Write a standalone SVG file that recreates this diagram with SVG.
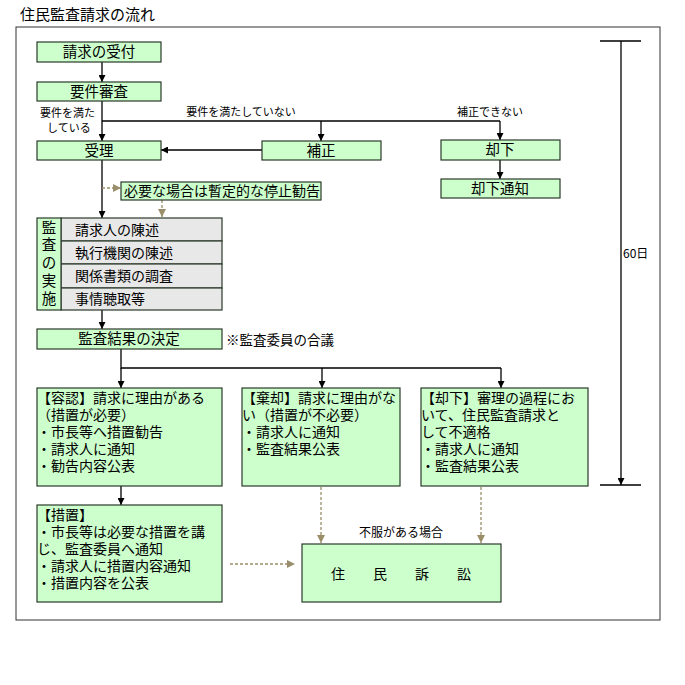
<svg xmlns="http://www.w3.org/2000/svg" width="685" height="685" viewBox="0 0 685 685">
<defs>
<marker id="ah" viewBox="0 0 10 10" refX="10" refY="5" markerWidth="7" markerHeight="7" markerUnits="userSpaceOnUse" orient="auto"><path d="M0,0 L10,5 L0,10 z" fill="#000"/></marker>
<marker id="ahd" viewBox="0 0 10 10" refX="10" refY="5" markerWidth="8" markerHeight="8" markerUnits="userSpaceOnUse" orient="auto"><path d="M0,0 L10,5 L0,10 z" fill="#9a8f6a"/></marker>
<style>
text{font-family:"Noto Sans CJK JP","Noto Sans CJK SC",sans-serif;fill:#000}
.b{fill:#ccffcc;stroke:#2b3a2b;stroke-width:1.2}
.g{fill:#e8e8e8;stroke:#2b3a2b;stroke-width:1.2}
.t{font-size:14.5px;text-anchor:middle}
.l{font-size:14px}
.s{font-size:11px}
.c{stroke:#000;stroke-width:1.3;fill:none}
.a{stroke:#000;stroke-width:1.3;fill:none;marker-end:url(#ah)}
.d{stroke:#9a8f6a;stroke-width:1.3;fill:none;stroke-dasharray:3,2;marker-end:url(#ahd)}
</style>
</defs>
<rect width="685" height="685" fill="#fff"/>
<text x="20" y="20" style="font-size:15px">住民監査請求の流れ</text>
<rect x="16" y="27" width="644" height="593" fill="none" stroke="#333" stroke-width="1"/>

<g id="connectors">
<path class="a" d="M102,62 V82"/>
<path class="a" d="M102,101 V141"/>
<path class="c" d="M102,121 H500"/>
<path class="a" d="M321,121 V141"/>
<path class="a" d="M500,121 V140"/>
<path class="a" d="M262,150 H161"/>
<path class="a" d="M500,160 V179"/>
<path class="a" d="M102,160 V218"/>
<path class="d" d="M102,188 H121"/>
<path class="d" d="M162,200 V217"/>
<path class="a" d="M102,310 V329"/>
<path class="c" d="M121,349 V368 H501"/>
<path class="a" d="M121,368 V388"/>
<path class="a" d="M322,368 V388"/>
<path class="a" d="M501,368 V388"/>
<path class="a" d="M121,486 V505"/>
<path class="d" d="M230,564 H295"/>
<path class="d" d="M321,487 V543"/>
<path class="d" d="M481,487 V543"/>
<path class="c" d="M600,41 H641 M600,485 H641"/>
<path class="a" d="M621,41 V485"/>
</g>
<text x="40" y="117" class="s">要件を満た</text>
<text x="47" y="132" class="s">している</text>
<text x="241" y="116" class="s" text-anchor="middle">要件を満たしていない</text>
<text x="490" y="116" class="s" text-anchor="middle">補正できない</text>
<text x="623" y="258" style="font-size:12px">60日</text>
<text x="401" y="537" style="font-size:12px" text-anchor="middle">不服がある場合</text>
<text x="226" y="345" style="font-size:13.5px">※監査委員の合議</text>

<g id="n_uketsuke"><rect class="b" x="37" y="42" width="124" height="20"/><text class="t" x="99" y="57">請求の受付</text></g>
<g id="n_shinsa"><rect class="b" x="37" y="82" width="124" height="19"/><text class="t" x="99" y="97">要件審査</text></g>
<g id="n_juri"><rect class="b" x="37" y="141" width="124" height="19"/><text class="t" x="99" y="156">受理</text></g>
<g id="n_hosei"><rect class="b" x="262" y="141" width="119" height="19"/><text class="t" x="321" y="156">補正</text></g>
<g id="n_kyakka"><rect class="b" x="441" y="140" width="119" height="20"/><text class="t" x="500" y="155">却下</text></g>
<g id="n_kyakka_tsuchi"><rect class="b" x="441" y="179" width="119" height="19"/><text class="t" x="500" y="194">却下通知</text></g>
<g id="n_teishi"><rect class="b" x="121" y="182" width="200" height="18"/><text class="l" x="124" y="196">必要な場合は暫定的な停止勧告</text></g>

<g id="n_kansa">
<rect class="g" x="61" y="218" width="161" height="23"/>
<rect class="g" x="61" y="241" width="161" height="23"/>
<rect class="g" x="61" y="264" width="161" height="24"/>
<rect class="g" x="61" y="288" width="161" height="22"/>
<rect class="b" x="37" y="218" width="24" height="92"/>
<text class="t" x="49" y="233">監</text>
<text class="t" x="49" y="250">査</text>
<text class="t" x="49" y="268">の</text>
<text class="t" x="49" y="286">実</text>
<text class="t" x="49" y="304">施</text>
<text class="l" x="75" y="235">請求人の陳述</text>
<text class="l" x="75" y="258">執行機関の陳述</text>
<text class="l" x="75" y="281">関係書類の調査</text>
<text class="l" x="75" y="304">事情聴取等</text>
</g>

<g id="n_kettei"><rect class="b" x="37" y="329" width="185" height="20"/><text class="t" x="129" y="344">監査結果の決定</text></g>

<g id="n_yonin"><rect class="b" x="37" y="388" width="185" height="98"/>
<text class="l" x="37" y="403">【容認】請求に理由がある</text>
<text class="l" x="37" y="420">（措置が必要）</text>
<text class="l" x="37" y="437">・市長等へ措置勧告</text>
<text class="l" x="37" y="454">・請求人に通知</text>
<text class="l" x="37" y="471">・勧告内容公表</text>
</g>
<g id="n_kikyaku"><rect class="b" x="242" y="388" width="158" height="98"/>
<text class="l" x="242" y="403">【棄却】請求に理由がな</text>
<text class="l" x="242" y="420">い（措置が不必要）</text>
<text class="l" x="242" y="437">・請求人に通知</text>
<text class="l" x="242" y="454">・監査結果公表</text>
</g>
<g id="n_kyakka2"><rect class="b" x="421" y="388" width="167" height="98"/>
<text class="l" x="421" y="403">【却下】審理の過程にお</text>
<text class="l" x="421" y="420">いて、住民監査請求と</text>
<text class="l" x="421" y="437">して不適格</text>
<text class="l" x="421" y="454">・請求人に通知</text>
<text class="l" x="421" y="471">・監査結果公表</text>
</g>
<g id="n_sochi"><rect class="b" x="37" y="505" width="185" height="97"/>
<text class="l" x="37" y="520">【措置】</text>
<text class="l" x="37" y="537">・市長等は必要な措置を講</text>
<text class="l" x="37" y="554">じ、監査委員へ通知</text>
<text class="l" x="37" y="571">・請求人に措置内容通知</text>
<text class="l" x="37" y="588">・措置内容を公表</text>
</g>
<g id="n_sosho"><rect class="b" x="302" y="544" width="199" height="58"/>
<text class="t" x="401" y="579" style="font-size:14px" xml:space="preserve">住　　民　　訴　　訟</text>
</g>
</svg>
